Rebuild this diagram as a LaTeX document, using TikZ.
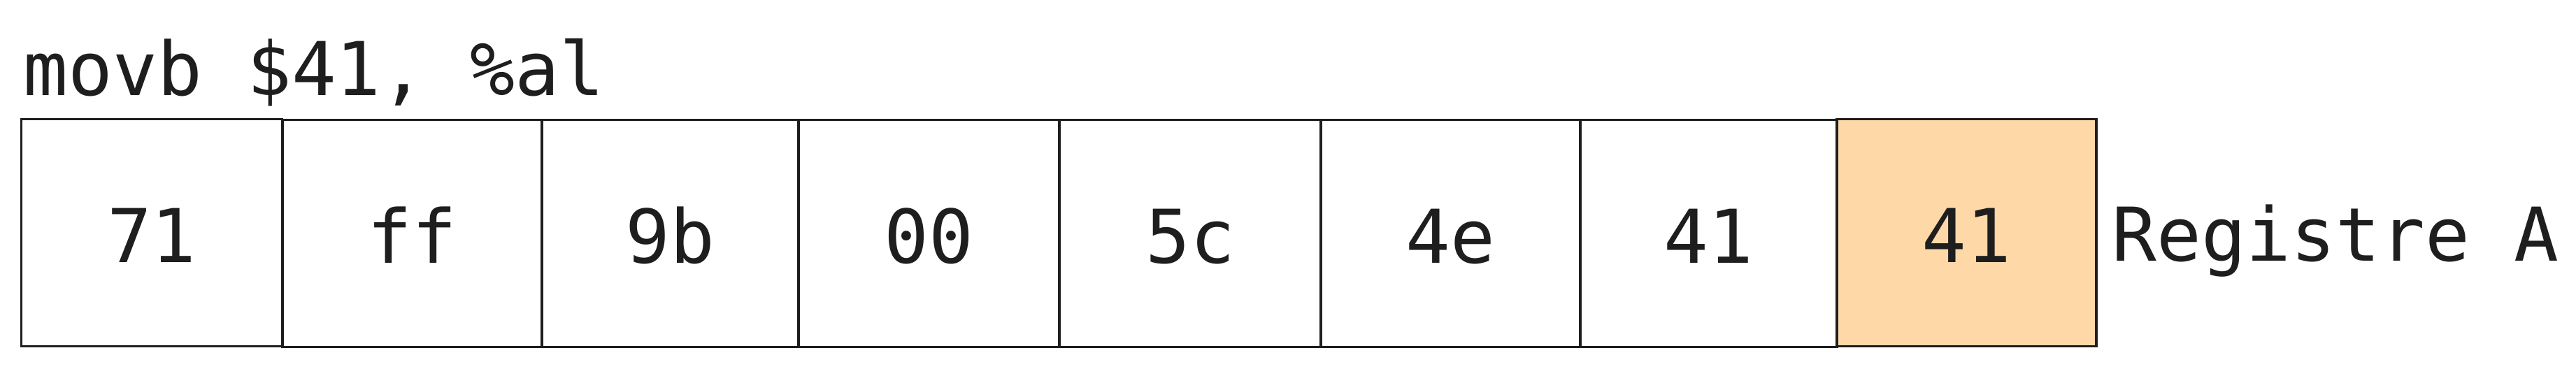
\documentclass[tikz,border=0pt]{standalone}
\usepackage{fontspec}
\setmonofont{DejaVu Sans Mono}
\definecolor{ink}{HTML}{1E1E1E}
\definecolor{hilite}{HTML}{FFD8A8}
\begin{document}
\begin{tikzpicture}[
  every node/.style={font=\ttfamily\fontsize{30.2pt}{36pt}\selectfont, text=ink},
  cell/.style={draw=ink, line width=1.1pt, fill=white, inner sep=0pt,
    minimum height=3.25cm, text height=0.84cm, text depth=0cm},
  lbl/.style={inner sep=0pt}
]
\useasboundingbox (0,0) rectangle (36.84,5.27);
\node[lbl, anchor=base west] (instr) at (0.33,3.91) {movb \$41, \%al};
\node[cell, minimum width=3.73cm] (b1) at (2.17,1.94) {71};
\node[cell, minimum width=3.71cm] (b2) at (5.895,1.93) {ff};
\node[cell, minimum width=3.67cm] (b3) at (9.585,1.93) {9b};
\node[cell, minimum width=3.73cm] (b4) at (13.285,1.93) {00};
\node[cell, minimum width=3.74cm] (b5) at (17.02,1.93) {5c};
\node[cell, minimum width=3.71cm] (b6) at (20.745,1.93) {4e};
\node[cell, minimum width=3.67cm] (b7) at (24.435,1.93) {41};
\node[cell, minimum width=3.71cm, fill=hilite] (b8) at (28.125,1.94) {41};
\node[lbl, anchor=base west] (reg) at (30.20,1.54) {Registre A};
\end{tikzpicture}
\end{document}
